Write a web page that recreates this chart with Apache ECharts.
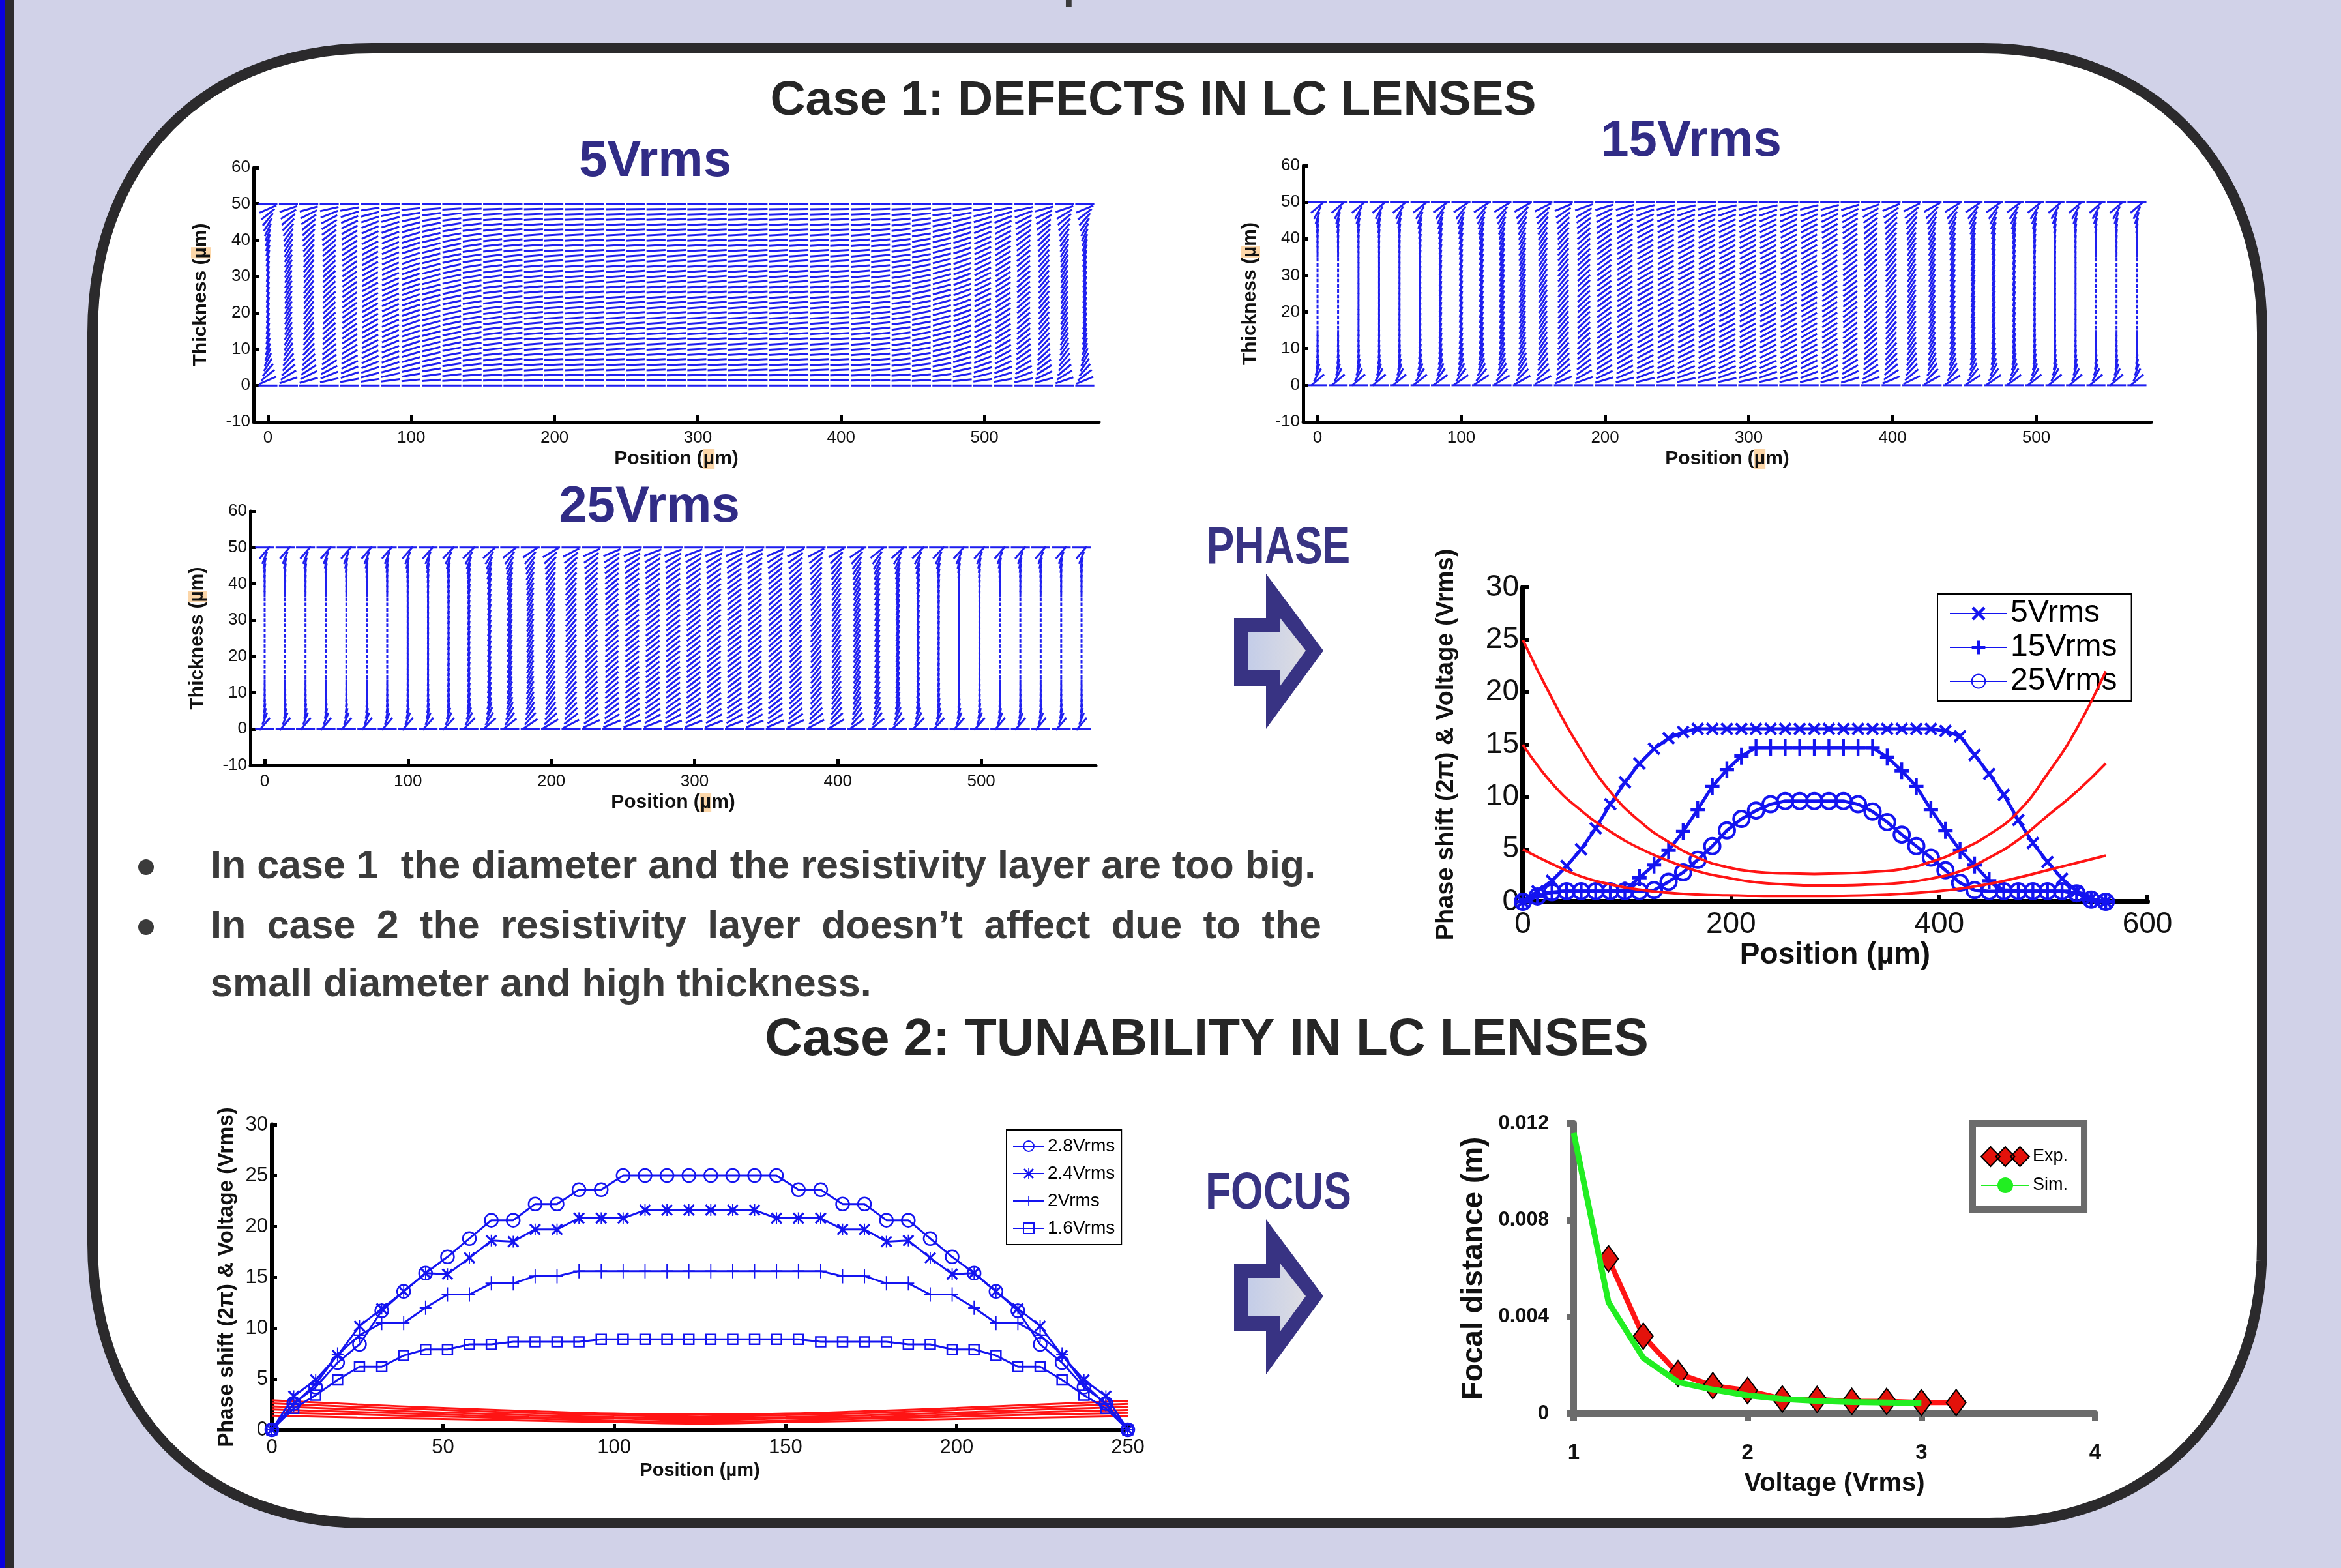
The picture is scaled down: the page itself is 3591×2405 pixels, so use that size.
<!DOCTYPE html>
<html>
<head>
<meta charset="utf-8">
<title>Defects and tunability in LC lenses</title>
<script src="https://cdn.jsdelivr.net/npm/echarts@6.0.0/dist/echarts.min.js"></script>
<style>
  html, body { margin: 0; padding: 0; background: #d1d2e8; }
  #poster { width: 3591px; height: 2405px; }
</style>
</head>
<body>
<div id="poster"></div>
<script>
// ---------- data read off the poster ----------
// director field (case 1): column positions (um), layer heights (um)
var columnPos = [0, 14.3, 28.5, 42.8, 57, 71.3, 85.5, 99.8, 114, 128.3, 142.5, 156.8, 171, 185.3, 199.5, 213.8, 228, 242.3, 256.5, 270.8, 285, 299.3, 313.5, 327.8, 342, 356.3, 370.5, 384.8, 399, 413.3, 427.5, 441.8, 456, 470.3, 484.5, 498.8, 513, 527.3, 541.5, 555.8, 570]
var layerPos = [0, 1.43, 2.86, 4.29, 5.71, 7.14, 8.57, 10, 11.43, 12.86, 14.29, 15.71, 17.14, 18.57, 20, 21.43, 22.86, 24.29, 25.71, 27.14, 28.57, 30, 31.43, 32.86, 34.29, 35.71, 37.14, 38.57, 40, 41.43, 42.86, 44.29, 45.71, 47.14, 48.57, 50]
// mid-layer tilt of the dashes per column, as drawn (degrees from horizontal)
var tilt5 = [78, 62, 52, 43, 35, 29, 24, 19, 15, 12, 9, 7, 6, 5, 4, 4, 4, 4, 4, 4, 4, 4, 4, 4, 4, 4, 4, 4, 4, 5, 6, 8, 11, 15, 20, 26, 33, 41, 50, 62, 75]
var tilt15 = [90, 90, 89, 89, 88, 84, 80, 77, 74, 70, 65, 58, 50, 43, 37, 33, 30, 29, 28, 28, 28, 28, 28, 29, 30, 33, 37, 43, 50, 58, 65, 70, 74, 77, 80, 84, 88, 89, 90, 90, 90]
var tilt25 = [90, 90, 90, 90, 90, 90, 90, 89, 88, 85, 81, 76, 70, 63, 56, 50, 45, 41, 39, 38, 38, 38, 38, 38, 39, 41, 45, 50, 56, 63, 70, 76, 81, 85, 88, 89, 90, 90, 90, 90, 90]
// fraction of the mid-layer tilt across the cell thickness
var profile5 = [0, 0.3, 0.5, 0.64, 0.74, 0.81, 0.86, 0.9, 0.93, 0.95, 0.97, 0.98, 0.99, 1, 1, 1, 1, 1, 1, 1, 1, 1, 1, 0.99, 0.98, 0.97, 0.95, 0.93, 0.9, 0.86, 0.81, 0.74, 0.64, 0.5, 0.3, 0]
var profile15 = [0, 0.45, 0.68, 0.8, 0.87, 0.91, 0.94, 0.96, 0.97, 0.98, 0.99, 1, 1, 1, 1, 1, 1, 1, 1, 1, 1, 1, 1, 1, 1, 0.99, 0.98, 0.97, 0.96, 0.94, 0.91, 0.87, 0.8, 0.68, 0.45, 0]
var profile25 = [0, 0.55, 0.76, 0.86, 0.91, 0.94, 0.96, 0.97, 0.98, 0.99, 1, 1, 1, 1, 1, 1, 1, 1, 1, 1, 1, 1, 1, 1, 1, 1, 0.99, 0.98, 0.97, 0.96, 0.94, 0.91, 0.86, 0.76, 0.55, 0]
var posTicks = [0, 100, 200, 300, 400, 500]

// phase profiles (case 1)
var phasePos = [0, 14, 28, 42, 56, 70, 84, 98, 112, 126, 140, 154, 168, 182, 196, 210, 224, 238, 252, 266, 280, 294, 308, 322, 336, 350, 364, 378, 392, 406, 420, 434, 448, 462, 476, 490, 504, 518, 532, 546, 560]
var phase5 = [0, 1.0, 2.0, 3.4, 5.0, 7.0, 9.3, 11.4, 13.2, 14.6, 15.6, 16.2, 16.5, 16.5, 16.5, 16.5, 16.5, 16.5, 16.5, 16.5, 16.5, 16.5, 16.5, 16.5, 16.5, 16.5, 16.5, 16.5, 16.5, 16.3, 15.8, 14.0, 12.2, 10.2, 7.8, 5.6, 3.8, 2.2, 1.0, 0.3, 0]
var phase15 = [0, 0.5, 0.9, 1.0, 1.0, 1.0, 1.0, 1.1, 2.3, 3.5, 4.9, 6.7, 8.8, 11.0, 12.6, 13.9, 14.7, 14.7, 14.7, 14.7, 14.7, 14.7, 14.7, 14.7, 14.7, 13.8, 12.5, 11.0, 8.8, 6.8, 4.9, 3.5, 2.0, 1.1, 1.0, 1.0, 1.0, 1.0, 0.8, 0.2, 0]
var phase25 = [0, 0.5, 0.9, 1.0, 1.0, 1.0, 1.0, 1.0, 1.0, 1.1, 1.9, 2.8, 4.0, 5.3, 6.8, 7.9, 8.7, 9.3, 9.6, 9.6, 9.6, 9.6, 9.6, 9.3, 8.6, 7.6, 6.4, 5.3, 4.2, 3.0, 1.8, 1.1, 1.0, 1.0, 1.0, 1.0, 1.0, 1.0, 0.8, 0.2, 0]
var voltPos = [0, 28, 56, 84, 112, 140, 168, 196, 224, 252, 280, 308, 336, 364, 392, 420, 448, 476, 504, 532, 560]
var volt25 = [25.0, 19.4, 14.5, 10.5, 7.7, 5.7, 4.2, 3.3, 2.85, 2.7, 2.65, 2.7, 2.85, 3.1, 3.8, 4.9, 6.4, 8.6, 12.2, 16.5, 22.0]
var volt15 = [15.0, 11.3, 8.7, 6.7, 5.1, 3.9, 2.9, 2.3, 1.85, 1.65, 1.55, 1.55, 1.65, 1.8, 2.2, 2.9, 4.2, 5.9, 8.2, 10.5, 13.2]
var volt5 = [5.0, 3.6, 2.4, 1.65, 1.15, 0.85, 0.68, 0.6, 0.56, 0.54, 0.54, 0.56, 0.62, 0.75, 0.95, 1.25, 1.7, 2.3, 3.0, 3.7, 4.4]

// tunability (case 2)
var tunPos = [0, 6.4, 12.8, 19.2, 25.6, 32.1, 38.5, 44.9, 51.3, 57.7, 64.1, 70.5, 76.9, 83.3, 89.7, 96.2, 102.6, 109, 115.4, 121.8, 128.2, 134.6, 141, 147.4, 153.8, 160.3, 166.7, 173.1, 179.5, 185.9, 192.3, 198.7, 205.1, 211.5, 217.9, 224.4, 230.8, 237.2, 243.6, 250]
var tun28 = [0, 2.6, 4.2, 6.6, 8.4, 11.7, 13.6, 15.4, 17.0, 18.8, 20.6, 20.6, 22.2, 22.2, 23.6, 23.6, 25, 25, 25, 25, 25, 25, 25, 25, 23.6, 23.6, 22.2, 22.2, 20.6, 20.6, 18.8, 17.0, 15.4, 13.6, 11.7, 8.4, 6.6, 4.2, 2.6, 0]
var tun24 = [0, 3.3, 4.9, 7.3, 10.2, 11.9, 13.6, 15.4, 15.3, 16.9, 18.6, 18.5, 19.7, 19.7, 20.8, 20.8, 20.8, 21.6, 21.6, 21.6, 21.6, 21.6, 21.6, 20.8, 20.8, 20.8, 19.7, 19.7, 18.5, 18.6, 16.9, 15.3, 15.4, 13.6, 11.9, 10.2, 7.3, 4.9, 3.3, 0]
var tun20 = [0, 2.5, 4.5, 7.4, 9.3, 10.5, 10.5, 12.0, 13.3, 13.3, 14.4, 14.4, 15.1, 15.1, 15.6, 15.6, 15.6, 15.6, 15.6, 15.6, 15.6, 15.6, 15.6, 15.6, 15.6, 15.6, 15.1, 15.1, 14.4, 14.4, 13.3, 13.3, 12.0, 10.5, 10.5, 9.3, 7.4, 4.5, 2.5, 0]
var tun16 = [0, 2.1, 3.4, 4.9, 6.2, 6.2, 7.3, 7.9, 7.9, 8.4, 8.4, 8.65, 8.65, 8.65, 8.65, 8.9, 8.9, 8.9, 8.9, 8.9, 8.9, 8.9, 8.9, 8.9, 8.9, 8.65, 8.65, 8.65, 8.65, 8.4, 8.4, 7.9, 7.9, 7.3, 6.2, 6.2, 4.9, 3.4, 2.1, 0]
var bandPos = [0, 25, 50, 75, 100, 125, 150, 175, 200, 225, 250]
var bandA = [2.9, 2.5, 2.15, 1.85, 1.6, 1.5, 1.6, 1.85, 2.15, 2.5, 2.85]
var bandB = [2.6, 2.25, 1.95, 1.65, 1.45, 1.3, 1.45, 1.65, 1.95, 2.25, 2.55]
var bandC = [2.3, 2.0, 1.7, 1.45, 1.25, 1.15, 1.25, 1.45, 1.7, 2.0, 2.25]
var bandD = [2.0, 1.75, 1.5, 1.25, 1.1, 0.95, 1.1, 1.25, 1.5, 1.75, 1.95]
var bandE = [1.7, 1.5, 1.3, 1.1, 0.9, 0.8, 0.9, 1.1, 1.3, 1.5, 1.65]
var bandF = [1.4, 1.2, 1.05, 0.9, 0.75, 0.6, 0.75, 0.9, 1.05, 1.2, 1.35]

// focal distance
var expVolt = [1.2, 1.4, 1.6, 1.8, 2.0, 2.2, 2.4, 2.6, 2.8, 3.0, 3.2]
var expFocal = [0.0064, 0.0032, 0.00165, 0.00115, 0.00095, 0.0006, 0.00058, 0.0005, 0.0005, 0.00045, 0.00045]
var simVolt = [1.0, 1.2, 1.4, 1.6, 1.8, 2.0, 2.2, 2.4, 2.6, 2.8, 3.0]
var simFocal = [0.0116, 0.0046, 0.0023, 0.0013, 0.00099, 0.00075, 0.0006, 0.00052, 0.00047, 0.00045, 0.00043]

// ---------- styling ----------
var FONT = '"Liberation Sans", Arial, Helvetica, sans-serif'
var BLUE = '#1414f0'
var RED = '#ff1414'
var INK = '#111'
var DASH_MIN = 2.8   // half length (px) of an upright dash
var DASH_SPAN = 11.8 // extra half length of a flat dash

var SYM_PLUS = 'path://M8,0 H12 V8 H20 V12 H12 V20 H8 V12 H0 V8 H8 Z'
var SYM_THIN_PLUS = 'path://M9,0 H11 V9 H20 V11 H11 V20 H9 V11 H0 V9 H9 Z'
var SYM_CROSS = 'path://M0,3 L3,0 L20,17 L17,20 Z M17,0 L20,3 L3,20 L0,17 Z'
var SYM_STAR = 'path://M0,2.5 L2.5,0 L20,17.5 L17.5,20 Z M17.5,0 L20,2.5 L2.5,20 L0,17.5 Z M9,0 H11 V20 H9 Z'
var ICON_EXP = 'path://M0,14 L9,0 L18,14 L9,28 Z M14,14 L23,0 L32,14 L23,28 Z M28,14 L37,0 L46,14 L37,28 Z'

function zip(xs, ys) {
    return xs.map(function (x, i) { return [x, ys[i]] })
}

function directorSeries(idx, tilt, profile) {
    var data = []
    columnPos.forEach(function (x, i) {
        layerPos.forEach(function (z, j) {
            data.push([x, z, tilt[i] * profile[j]])
        })
    })
    return {
        type: 'custom',
        xAxisIndex: idx,
        yAxisIndex: idx,
        silent: true,
        data: data,
        renderItem: function (params, api) {
            var c = api.coord([api.value(0), api.value(1)])
            var phi = api.value(2) * Math.PI / 180
            var cs = Math.max(Math.cos(phi), 0)
            var h = DASH_MIN + DASH_SPAN * Math.sqrt(cs)
            var dx = h * cs
            var dy = h * Math.sin(phi)
            return {
                type: 'line',
                shape: { x1: c[0] - dx, y1: c[1] + dy, x2: c[0] + dx, y2: c[1] - dy },
                style: { stroke: '#1f1ff0', lineWidth: 3 }
            }
        }
    }
}

function nameStyle(size, rich) {
    var s = { fontFamily: FONT, fontSize: size, fontWeight: 'bold', color: INK }
    if (rich) {
        s.rich = { hl: { fontFamily: FONT, fontSize: size, fontWeight: 'bold', color: INK, backgroundColor: '#fcd6a8' } }
    }
    return s
}

// director plot axes
function dirX(idx) {
    return {
        type: 'value', gridIndex: idx, min: -10, max: 580,
        splitLine: { show: false },
        axisLine: { onZero: false, lineStyle: { color: '#000', width: 5 } },
        axisTick: { inside: true, length: 10, lineStyle: { color: '#000', width: 5 }, customValues: posTicks },
        axisLabel: { customValues: posTicks, color: INK, fontSize: 26, fontFamily: FONT, margin: 12 },
        name: 'Position ({hl|µ}m)', nameLocation: 'middle', nameGap: 42,
        nameTextStyle: nameStyle(30, true)
    }
}
function dirY(idx) {
    return {
        type: 'value', gridIndex: idx, min: -10, max: 60, interval: 10,
        splitLine: { show: false },
        axisLine: { onZero: false, lineStyle: { color: '#000', width: 5 } },
        axisTick: { inside: true, length: 8, lineStyle: { color: '#000', width: 5 } },
        axisLabel: { color: INK, fontSize: 26, fontFamily: FONT, margin: 5 },
        name: 'Thickness ({hl|µ}m)', nameLocation: 'middle', nameGap: 66,
        nameTextStyle: nameStyle(30, true)
    }
}

// ---------- poster decoration ----------
function bezier(p0, p1, p2, p3, n) {
    var pts = []
    for (var k = 1; k <= n; k++) {
        var t = k / n, u = 1 - t
        pts.push([
            u * u * u * p0[0] + 3 * u * u * t * p1[0] + 3 * u * t * t * p2[0] + t * t * t * p3[0],
            u * u * u * p0[1] + 3 * u * u * t * p1[1] + 3 * u * t * t * p2[1] + t * t * t * p3[1]
        ])
    }
    return pts
}
var frame = [[571, 74], [3041, 74]]
    .concat(bezier([3041, 74], [3298, 74], [3470, 248], [3470, 510], 30))
    .concat([[3470, 1908]])
    .concat(bezier([3470, 1908], [3470, 2165], [3302, 2336], [3051, 2336], 30))
    .concat([[561, 2336]])
    .concat(bezier([561, 2336], [310, 2336], [142, 2165], [142, 1908], 30))
    .concat([[142, 510]])
    .concat(bezier([142, 510], [142, 248], [314, 74], [571, 74], 30))

function label(text, x, y, size, color, extra) {
    var el = {
        type: 'text', z: 20, x: x, y: y,
        style: {
            text: text, x: 0, y: 0, fill: color,
            fontFamily: FONT, fontSize: size, fontWeight: 'bold',
            align: 'center', verticalAlign: 'middle',
            textAlign: 'center', textVerticalAlign: 'middle'
        }
    }
    if (extra) Object.keys(extra).forEach(function (k) { el[k] = extra[k] })
    return el
}

function arrow(dy) {
    var outer = [[1893, 948], [1942, 948], [1942, 880], [2030, 998], [1942, 1118], [1942, 1052], [1893, 1052]]
    var inner = [[1915, 970], [1963, 970], [1963, 947], [2003, 998], [1963, 1053], [1963, 1028], [1915, 1028]]
    var shift = function (p) { return [p[0], p[1] + dy] }
    return [
        { type: 'polygon', z: 20, shape: { points: outer.map(shift) }, style: { fill: '#383383' } },
        {
            type: 'polygon', z: 21, shape: { points: inner.map(shift) },
            style: {
                fill: new echarts.graphic.LinearGradient(0, 0, 1, 0, [
                    { offset: 0, color: '#c4cde8' }, { offset: 1, color: '#dddde3' }
                ])
            }
        }
    ]
}

var BULLET_FONT = 'bold 61px "Liberation Sans", Arial, sans-serif'
var GREY = '#3b3b3b'
function plainLine(text, x, y) {
    return {
        type: 'text', z: 20,
        style: {
            text: text, x: x, y: y, fill: GREY, font: BULLET_FONT,
            align: 'left', verticalAlign: 'middle', textAlign: 'left', textVerticalAlign: 'middle'
        }
    }
}
function justifiedLine(text, x, y, width) {
    var ctx = document.createElement('canvas').getContext('2d')
    ctx.font = BULLET_FONT
    var words = text.split(' ')
    var total = words.reduce(function (s, w) { return s + ctx.measureText(w).width }, 0)
    var gap = (width - total) / (words.length - 1)
    var els = []
    var cx = x
    words.forEach(function (w) {
        els.push(plainLine(w, cx, y))
        cx += ctx.measureText(w).width + gap
    })
    return els
}

var graphics = [
    { type: 'rect', z: -10, shape: { x: 0, y: 0, width: 8, height: 2405 }, style: { fill: '#0b00de' } },
    { type: 'rect', z: -10, shape: { x: 8, y: 0, width: 13, height: 2405 }, style: { fill: '#2d2b2e' } },
    { type: 'polygon', z: -9, shape: { points: frame }, style: { fill: '#fff', stroke: '#2b2a2c', lineWidth: 16 } },
    {
        type: 'text', z: 20,
        style: {
            text: 'patterned one.', x: 1851, y: 12, fill: GREY, font: 'bold 64px "Liberation Sans", Arial, sans-serif',
            align: 'center', verticalAlign: 'bottom', textAlign: 'center', textVerticalAlign: 'bottom'
        }
    },
    label('Case 1: DEFECTS IN LC LENSES', 1769, 155, 75, '#262626'),
    label('Case 2: TUNABILITY IN LC LENSES', 1851, 1596, 80, '#262626'),
    label('5Vrms', 1005, 248, 78, '#312c86'),
    label('15Vrms', 2594, 217, 78, '#312c86'),
    label('25Vrms', 996, 778, 78, '#312c86'),
    label('PHASE', 1961, 842, 80, '#383383', { scaleX: 0.8 }),
    label('FOCUS', 1961, 1832, 80, '#383383', { scaleX: 0.8 }),
    { type: 'circle', z: 20, shape: { cx: 224, cy: 1330, r: 12 }, style: { fill: GREY } },
    { type: 'circle', z: 20, shape: { cx: 224, cy: 1422, r: 12 }, style: { fill: GREY } },
    plainLine('In case 1  the diameter and the resistivity layer are too big.', 323, 1330),
    plainLine('small diameter and high thickness.', 323, 1511)
]
    .concat(justifiedLine('In case 2 the resistivity layer doesn\u2019t affect due to the', 323, 1422, 1704))
    .concat(arrow(0))
    .concat(arrow(990))

// ---------- option ----------
var option = {
    animation: false,
    backgroundColor: '#d1d2e8',
    graphic: { elements: graphics },
    grid: [
        { left: 389, top: 257, width: 1297, height: 390, outerBoundsMode: 'none' },
        { left: 1999, top: 254, width: 1301, height: 393, outerBoundsMode: 'none' },
        { left: 384, top: 784, width: 1297, height: 390, outerBoundsMode: 'none' },
        { left: 2336, top: 901, width: 958, height: 482, outerBoundsMode: 'none' },
        { left: 417, top: 1725, width: 1313, height: 468, outerBoundsMode: 'none' },
        { left: 2414, top: 1723, width: 800, height: 445, outerBoundsMode: 'none' }
    ],
    xAxis: [
        dirX(0), dirX(1), dirX(2),
        {
            type: 'value', gridIndex: 3, min: 0, max: 600, interval: 200,
            splitLine: { show: false },
            axisLine: { onZero: false, lineStyle: { color: '#000', width: 8 } },
            axisTick: { inside: true, length: 11, lineStyle: { color: '#000', width: 6 } },
            axisLabel: { color: INK, fontSize: 46, fontFamily: FONT, margin: 12 },
            name: 'Position (µm)', nameLocation: 'middle', nameGap: 36,
            nameTextStyle: nameStyle(46)
        },
        {
            type: 'value', gridIndex: 4, min: 0, max: 250, interval: 50,
            splitLine: { show: false },
            axisLine: { onZero: false, lineStyle: { color: '#000', width: 7 } },
            axisTick: { inside: true, length: 9, lineStyle: { color: '#000', width: 5 } },
            axisLabel: { color: INK, fontSize: 31, fontFamily: FONT, margin: 12 },
            name: 'Position (µm)', nameLocation: 'middle', nameGap: 48,
            nameTextStyle: nameStyle(29)
        },
        {
            type: 'value', gridIndex: 5, min: 1, max: 4, interval: 1,
            splitLine: { show: false },
            axisLine: { onZero: false, lineStyle: { color: '#6b6b6b', width: 10 } },
            axisTick: { inside: false, length: 12, lineStyle: { color: '#6b6b6b', width: 10 } },
            axisLabel: { color: INK, fontSize: 33, fontWeight: 'bold', fontFamily: FONT, margin: 44 },
            name: 'Voltage (Vrms)', nameLocation: 'middle', nameGap: 88,
            nameTextStyle: nameStyle(40)
        }
    ],
    yAxis: [
        dirY(0), dirY(1), dirY(2),
        {
            type: 'value', gridIndex: 3, min: 0, max: 30, interval: 5,
            splitLine: { show: false },
            axisLine: { onZero: false, lineStyle: { color: '#000', width: 8 } },
            axisTick: { inside: true, length: 9, lineStyle: { color: '#000', width: 6 } },
            axisLabel: { color: INK, fontSize: 46, fontFamily: FONT, margin: 6 },
            name: 'Phase shift (2π) & Voltage (Vrms)', nameLocation: 'middle', nameGap: 98,
            nameTextStyle: nameStyle(38)
        },
        {
            type: 'value', gridIndex: 4, min: 0, max: 30, interval: 5,
            splitLine: { show: false },
            axisLine: { onZero: false, lineStyle: { color: '#000', width: 7 } },
            axisTick: { inside: true, length: 8, lineStyle: { color: '#000', width: 5 } },
            axisLabel: { color: INK, fontSize: 31, fontFamily: FONT, margin: 6 },
            name: 'Phase shift (2π) & Voltage (Vrms)', nameLocation: 'middle', nameGap: 53,
            nameTextStyle: nameStyle(33)
        },
        {
            type: 'value', gridIndex: 5, min: 0, max: 0.012, interval: 0.004,
            splitLine: { show: false },
            axisLine: { onZero: false, lineStyle: { color: '#6b6b6b', width: 10 } },
            axisTick: { inside: false, length: 10, lineStyle: { color: '#6b6b6b', width: 10 } },
            axisLabel: {
                color: INK, fontSize: 31, fontWeight: 'bold', fontFamily: FONT, margin: 38,
                formatter: function (v) { return v === 0 ? '0' : v.toFixed(3) }
            },
            name: 'Focal distance (m)', nameLocation: 'middle', nameGap: 130,
            nameTextStyle: nameStyle(46)
        }
    ],
    legend: [
        {
            left: 2972, top: 911, orient: 'vertical', selectedMode: false,
            data: ['5Vrms', '15Vrms', '25Vrms'],
            itemWidth: 88, itemHeight: 26, itemGap: 4, padding: [6, 22, 6, 18],
            backgroundColor: '#fff', borderColor: '#000', borderWidth: 2,
            textStyle: { color: '#000', fontSize: 48, fontFamily: FONT, lineHeight: 40 }
        },
        {
            left: 1544, top: 1733, orient: 'vertical', selectedMode: false,
            data: ['2.8Vrms', '2.4Vrms', '2Vrms', '1.6Vrms'],
            itemWidth: 48, itemHeight: 20, itemGap: 8, padding: [8, 10, 8, 9],
            backgroundColor: '#fff', borderColor: '#000', borderWidth: 2,
            textStyle: { color: '#000', fontSize: 28, fontFamily: FONT, lineHeight: 34 }
        },
        {
            left: 3026, top: 1723, orient: 'vertical', selectedMode: false,
            data: [{ name: 'Exp.', icon: ICON_EXP }, 'Sim.'],
            symbolKeepAspect: false,
            itemWidth: 74, itemHeight: 30, itemGap: 13, padding: [35, 25, 22, 12],
            backgroundColor: '#fff', borderColor: '#6b6b6b', borderWidth: 10,
            textStyle: { color: '#000', fontSize: 27, fontFamily: FONT, lineHeight: 30 }
        }
    ],
    series: [
        directorSeries(0, tilt5, profile5),
        directorSeries(1, tilt15, profile15),
        directorSeries(2, tilt25, profile25),

        // phase chart (case 1)
        {
            name: '5Vrms', type: 'line', xAxisIndex: 3, yAxisIndex: 3, data: zip(phasePos, phase5),
            symbol: SYM_CROSS, symbolSize: 20,
            lineStyle: { color: BLUE, width: 5 }, itemStyle: { color: BLUE, borderWidth: 0 }
        },
        {
            name: '15Vrms', type: 'line', xAxisIndex: 3, yAxisIndex: 3, data: zip(phasePos, phase15),
            symbol: SYM_PLUS, symbolSize: [22, 26],
            lineStyle: { color: BLUE, width: 5 }, itemStyle: { color: BLUE, borderWidth: 0 }
        },
        {
            name: '25Vrms', type: 'line', xAxisIndex: 3, yAxisIndex: 3, data: zip(phasePos, phase25),
            symbol: 'circle', symbolSize: 24,
            lineStyle: { color: BLUE, width: 5 },
            itemStyle: { color: 'rgba(255,255,255,0)', borderColor: BLUE, borderWidth: 4 }
        },
        { name: 'V25', type: 'line', xAxisIndex: 3, yAxisIndex: 3, data: zip(voltPos, volt25), smooth: true, symbol: 'none', lineStyle: { color: RED, width: 4 }, z: 4 },
        { name: 'V15', type: 'line', xAxisIndex: 3, yAxisIndex: 3, data: zip(voltPos, volt15), smooth: true, symbol: 'none', lineStyle: { color: RED, width: 4 }, z: 4 },
        { name: 'V5', type: 'line', xAxisIndex: 3, yAxisIndex: 3, data: zip(voltPos, volt5), smooth: true, symbol: 'none', lineStyle: { color: RED, width: 4 }, z: 4 },

        // tunability (case 2)
        { name: 'bandA', type: 'line', xAxisIndex: 4, yAxisIndex: 4, data: zip(bandPos, bandA), smooth: true, symbol: 'none', lineStyle: { color: RED, width: 3 }, z: 1 },
        { name: 'bandB', type: 'line', xAxisIndex: 4, yAxisIndex: 4, data: zip(bandPos, bandB), smooth: true, symbol: 'none', lineStyle: { color: RED, width: 3 }, z: 1 },
        { name: 'bandC', type: 'line', xAxisIndex: 4, yAxisIndex: 4, data: zip(bandPos, bandC), smooth: true, symbol: 'none', lineStyle: { color: RED, width: 3 }, z: 1 },
        { name: 'bandD', type: 'line', xAxisIndex: 4, yAxisIndex: 4, data: zip(bandPos, bandD), smooth: true, symbol: 'none', lineStyle: { color: RED, width: 3 }, z: 1 },
        { name: 'bandE', type: 'line', xAxisIndex: 4, yAxisIndex: 4, data: zip(bandPos, bandE), smooth: true, symbol: 'none', lineStyle: { color: RED, width: 3 }, z: 1 },
        { name: 'bandF', type: 'line', xAxisIndex: 4, yAxisIndex: 4, data: zip(bandPos, bandF), smooth: true, symbol: 'none', lineStyle: { color: RED, width: 3 }, z: 1 },
        {
            name: '2.8Vrms', type: 'line', xAxisIndex: 4, yAxisIndex: 4, data: zip(tunPos, tun28),
            symbol: 'circle', symbolSize: 20, lineStyle: { color: BLUE, width: 3 },
            itemStyle: { color: 'rgba(255,255,255,0)', borderColor: BLUE, borderWidth: 2.5 }
        },
        {
            name: '2.4Vrms', type: 'line', xAxisIndex: 4, yAxisIndex: 4, data: zip(tunPos, tun24),
            symbol: SYM_STAR, symbolSize: 18, lineStyle: { color: BLUE, width: 3 },
            itemStyle: { color: BLUE, borderWidth: 0 }
        },
        {
            name: '2Vrms', type: 'line', xAxisIndex: 4, yAxisIndex: 4, data: zip(tunPos, tun20),
            symbol: SYM_THIN_PLUS, symbolSize: [18, 22], lineStyle: { color: BLUE, width: 3 },
            itemStyle: { color: BLUE, borderWidth: 0 }
        },
        {
            name: '1.6Vrms', type: 'line', xAxisIndex: 4, yAxisIndex: 4, data: zip(tunPos, tun16),
            symbol: 'rect', symbolSize: 15, lineStyle: { color: BLUE, width: 3 },
            itemStyle: { color: 'rgba(255,255,255,0)', borderColor: BLUE, borderWidth: 2.5 }
        },

        // focal distance
        {
            name: 'Exp.', type: 'line', xAxisIndex: 5, yAxisIndex: 5, data: zip(expVolt, expFocal),
            symbol: 'diamond', symbolSize: [30, 40],
            lineStyle: { color: RED, width: 8 },
            itemStyle: { color: '#e3120b', borderColor: '#000', borderWidth: 2 }, z: 2
        },
        {
            name: 'Sim.', type: 'line', xAxisIndex: 5, yAxisIndex: 5, data: zip(simVolt, simFocal),
            symbol: 'none', lineStyle: { color: '#22ee22', width: 9 }, itemStyle: { color: '#22ee22' }, z: 3
        }
    ]
}

var myChart = echarts.init(document.getElementById('poster'))
myChart.setOption(option)
window.addEventListener('resize', function () {
    myChart.resize()
})
</script>
</body>
</html>
